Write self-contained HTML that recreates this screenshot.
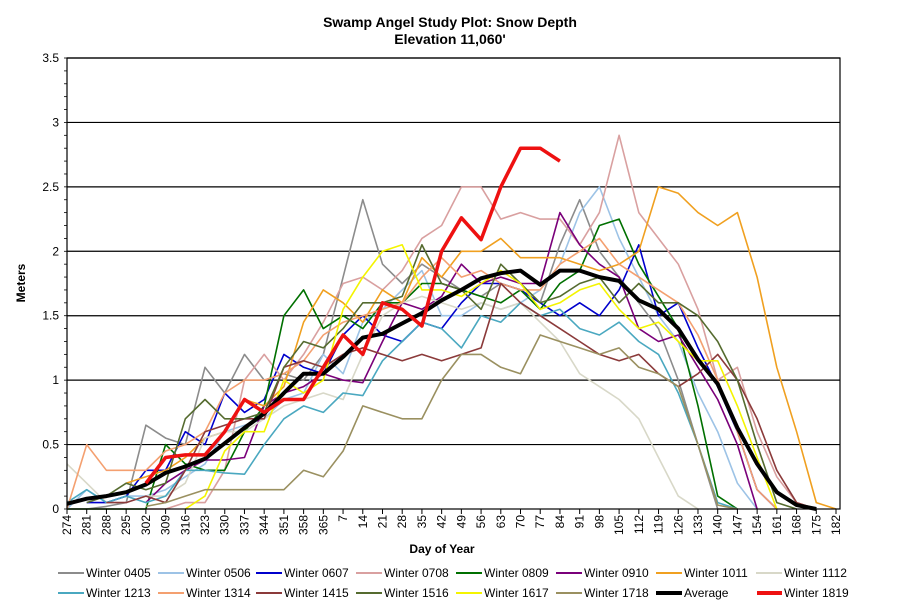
<!DOCTYPE html>
<html><head><meta charset="utf-8">
<style>
html,body{margin:0;padding:0;background:#fff;}
svg{display:block;font-family:"Liberation Sans",Arial,sans-serif;}
</style></head>
<body>
<svg id="chart" width="902" height="613" viewBox="0 0 902 613" xmlns="http://www.w3.org/2000/svg">
<text x="450" y="27" text-anchor="middle" font-size="14" font-weight="bold">Swamp Angel Study Plot: Snow Depth</text>
<text x="450" y="44" text-anchor="middle" font-size="14" font-weight="bold">Elevation 11,060'</text>
<text transform="translate(25,283) rotate(-90)" text-anchor="middle" font-size="12" font-weight="bold">Meters</text>
<text x="442" y="553" text-anchor="middle" font-size="12" font-weight="bold">Day of Year</text>
<g id="grid"></g><g id="series"></g><g id="axes"></g><g id="legend"></g>
</svg>
<script>
const dayLabels = ["274","281","288","295","302","309","316","323","330","337","344","351","358","365","7","14","21","28","35","42","49","56","63","70","77","84","91","98","105","112","119","126","133","140","147","154","161","168","175","182"];
const yTicks = [0,0.5,1,1.5,2,2.5,3,3.5];
const seriesNames = ["Winter 0405","Winter 0506","Winter 0607","Winter 0708","Winter 0809","Winter 0910","Winter 1011","Winter 1112","Winter 1213","Winter 1314","Winter 1415","Winter 1516","Winter 1617","Winter 1718","Average","Winter 1819"];
const seriesColors = ["#8c8c8c","#9dc3e6","#0000cc","#d9a0a0","#007000","#7a007a","#f0a020","#d8d8c8","#4aa8c0","#f4a070","#8b3a3a","#556b2f","#f4f400","#9a9060","#000000","#ee1111"];
const w0405 = [0,0,0.02,0.05,0.65,0.55,0.5,1.1,0.9,1.2,1.0,1.05,1.0,1.2,1.8,2.4,1.9,1.75,1.9,1.8,1.7,1.65,1.75,1.7,1.6,2.05,2.4,2.0,1.8,1.6,1.4,1.0,0.5,0,0,null,null,null,null,null];
const w0506 = [0,0.15,0.05,0.1,0.1,0.15,0.25,0.35,0.6,0.65,0.7,0.85,0.9,1.2,1.05,1.45,1.55,1.7,1.85,1.5,1.5,1.6,1.55,1.6,1.7,1.9,2.3,2.5,2.1,1.8,1.5,1.3,0.9,0.6,0.2,0,null,null,null,null];
const w0607 = [null,0.05,0.05,0.1,0.3,0.3,0.6,0.5,0.9,0.75,0.85,1.2,1.1,1.05,1.35,1.5,1.35,1.3,1.45,1.4,1.6,1.75,1.75,1.7,1.6,1.5,1.6,1.5,1.7,2.05,1.5,1.6,1.25,0.95,0.6,0.15,0,null,null,null];
const w0708 = [0,0,0,0,0,0,0.05,0.05,0.3,1.0,1.2,1.0,1.2,1.45,1.75,1.8,1.7,1.85,2.1,2.2,2.5,2.5,2.25,2.3,2.25,2.25,2.05,2.3,2.9,2.3,2.1,1.9,1.55,1.0,1.1,0.6,0.25,0.05,0,null];
const w0809 = [0,0,0,0,0,0.5,0.35,0.3,0.3,0.6,0.8,1.5,1.7,1.4,1.5,1.4,1.6,1.6,1.75,1.75,1.7,1.65,1.6,1.7,1.55,1.75,1.85,2.2,2.25,1.9,1.65,1.4,0.8,0.1,0,null,null,null,null,null];
const w0910 = [null,null,null,null,0.05,0.2,0.3,0.38,0.38,0.4,0.8,0.9,0.95,1.05,1.0,0.98,1.3,1.6,1.55,1.65,1.9,1.75,1.8,1.75,1.75,2.3,2.05,1.9,1.8,1.4,1.3,1.35,1.1,0.85,0.5,0,null,null,null,null];
const w1011 = [null,null,null,0.2,0.25,0.3,0.4,0.55,0.6,0.85,0.8,0.95,1.45,1.7,1.6,1.45,1.7,1.6,1.95,1.8,2.0,2.0,2.1,1.95,1.95,1.95,1.9,1.85,1.9,2.0,2.5,2.45,2.3,2.2,2.3,1.8,1.1,0.6,0.05,0];
const w1112 = [0.35,0.2,0.05,0.05,0.1,0.1,0.2,0.55,0.6,0.6,0.7,0.8,0.85,0.9,0.85,1.2,1.5,1.6,1.65,1.6,1.55,1.6,1.55,1.6,1.45,1.3,1.05,0.95,0.85,0.7,0.4,0.1,0,null,null,null,null,null,null,null];
const w1213 = [0.05,0.15,0.05,0.1,0.05,0.1,0.3,0.3,0.28,0.27,0.5,0.7,0.8,0.75,0.9,0.88,1.15,1.3,1.45,1.4,1.25,1.5,1.45,1.6,1.5,1.55,1.4,1.35,1.45,1.3,1.2,0.9,0.5,0.05,0,null,null,null,null,null];
const w1314 = [0,0.5,0.3,0.3,0.3,0.45,0.5,0.6,0.9,1.0,1.0,1.05,1.15,1.35,1.45,1.5,1.55,1.6,1.8,1.95,1.8,1.85,1.75,1.7,1.7,1.9,2.0,2.1,1.9,1.8,1.7,1.6,1.35,1.0,0.6,0.15,0,null,null,null];
const w1415 = [null,null,0.05,0.05,0.1,0.05,0.3,0.6,0.65,0.7,0.7,1.1,1.15,1.1,1.2,1.25,1.2,1.15,1.2,1.15,1.2,1.25,1.75,1.6,1.5,1.4,1.3,1.2,1.15,1.2,1.05,0.95,1.05,1.2,1.0,0.7,0.3,0.05,0,null];
const w1516 = [null,0.05,0.1,0.2,0.15,0.2,0.7,0.85,0.7,0.7,0.75,1.1,1.3,1.25,1.4,1.6,1.6,1.65,2.05,1.75,1.7,1.55,1.9,1.75,1.6,1.65,1.75,1.8,1.6,1.75,1.6,1.6,1.5,1.3,1.0,0.5,0.05,0,null,null];
const w1617 = [null,null,null,null,null,null,0,0.1,0.45,0.6,0.6,1.0,0.9,1.0,1.55,1.8,2.0,2.05,1.7,1.7,1.65,1.75,1.85,1.75,1.55,1.6,1.7,1.75,1.55,1.4,1.45,1.3,1.15,1.15,0.8,0.4,0,null,null,null];
const w1718 = [null,null,null,null,0.02,0.05,0.1,0.15,0.15,0.15,0.15,0.15,0.3,0.25,0.45,0.8,0.75,0.7,0.7,1.0,1.2,1.2,1.1,1.05,1.35,1.3,1.25,1.2,1.25,1.1,1.05,0.95,0.5,0.03,0,null,null,null,null,null];
const wAverage = [0.04,0.08,0.1,0.13,0.19,0.28,0.33,0.39,0.51,0.63,0.74,0.9,1.05,1.05,1.18,1.33,1.36,1.44,1.52,1.62,1.7,1.79,1.83,1.85,1.74,1.85,1.85,1.8,1.77,1.62,1.55,1.4,1.16,0.97,0.63,0.35,0.13,0.03,0,null];
const w1819 = [null,null,null,null,0.2,0.4,0.42,0.42,0.6,0.85,0.75,0.85,0.85,1.1,1.35,1.2,1.6,1.55,1.42,2.0,2.26,2.09,2.5,2.8,2.8,2.7,null,null,null,null,null,null,null,null,null,null,null,null,null,null];
const seriesValues = [w0405,w0506,w0607,w0708,w0809,w0910,w1011,w1112,w1213,w1314,w1415,w1516,w1617,w1718,wAverage,w1819];

const NS="http://www.w3.org/2000/svg";
const L=67,R=840,T=58,B=509,YMAX=3.5;
const x0=67,x1=836;
function xScale(i){return x0+(x1-x0)*i/(dayLabels.length-1);}
function yScale(v){return B-(B-T)*v/YMAX;}
function mk(tag,attrs,parent){const e=document.createElementNS(NS,tag);for(const k in attrs)e.setAttribute(k,attrs[k]);parent.appendChild(e);return e;}
const grid=document.getElementById('grid'),axes=document.getElementById('axes'),ser=document.getElementById('series'),leg=document.getElementById('legend');

yTicks.forEach(v=>{
  const y=yScale(v);
  if(v>0){const g=mk('line',{x1:L,x2:R,y1:y,y2:y,stroke:'#000','stroke-width':1.2},grid);
  
  }
  const t=mk('text',{x:L-8,y:y+4,'text-anchor':'end','font-size':12},axes);
  t.textContent=String(v);
  
  
});
for(let k=0;k<=35;k++){const y=yScale(k*0.1);mk('line',{x1:L-3,x2:L,y1:y,y2:y,stroke:'#000','stroke-width':0.8},axes);}
const frame=mk('rect',{x:L,y:T,width:R-L,height:B-T,fill:'none',stroke:'#000','stroke-width':1.2},axes);


dayLabels.forEach((d,i)=>{
  const x=xScale(i);
  mk('line',{x1:x,x2:x,y1:B,y2:B+5,stroke:'#000','stroke-width':1},axes);
  const t=mk('text',{transform:`translate(${x+4},${B+6}) rotate(-90)`,'text-anchor':'end','font-size':12},axes);
  t.textContent=d;
  
  
});

seriesValues.forEach((vals,s)=>{
  let d='',pen=false;
  vals.forEach((v,i)=>{
    if(v===null){pen=false;return;}
    d+=(pen?'L':'M')+xScale(i).toFixed(1)+','+yScale(v).toFixed(1)+' ';pen=true;
  });
  const w=s===14?4:(s===15?3.5:1.6);
  const p=mk('path',{d:d,fill:'none',stroke:seriesColors[s],'stroke-width':w,'stroke-linejoin':'round'},ser);
  
  
});

const legTextX=[86,186,284,384,484,584,684,784];
seriesNames.forEach((n,s)=>{
  const row=Math.floor(s/8),col=s%8;
  const y=row===0?577:597;
  const x=legTextX[col];
  const g=mk('g',{},leg);
  
  
  const lineStart=(s===15)?757:x-28;
  const w=s===14?4:(s===15?4:2);
  mk('line',{x1:lineStart,x2:x-2,y1:y-4,y2:y-4,stroke:seriesColors[s],'stroke-width':w},g);
  const t=mk('text',{x:x,y:y,'font-size':12},g);
  t.textContent=n;
});
</script>
</body></html>
